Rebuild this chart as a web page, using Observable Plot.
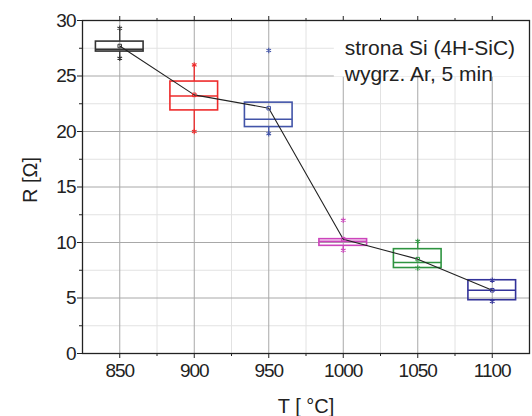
<!DOCTYPE html>
<html><head><meta charset="utf-8">
<script src="https://cdn.jsdelivr.net/npm/d3@7"></script>
<script src="https://cdn.jsdelivr.net/npm/@observablehq/plot@0.6"></script>
<style>
body{margin:0;background:#fff}
svg{font-family:"Liberation Sans",Arial,sans-serif}
g[aria-label$="tick label"] text{letter-spacing:-1px}
</style>
</head><body><div id="chart"></div>
<script>
const temps = [850, 900, 950, 1000, 1050, 1100];
const whiskerLow = [26.5, 19.9, 19.7, 9.3, 7.6, 4.7];
const q1 = [27.2, 21.9, 20.4, 9.7, 7.7, 4.8];
const median = [27.4, 23.2, 21.1, 10.1, 8.2, 5.7];
const q3 = [28.1, 24.5, 22.6, 10.3, 9.4, 6.6];
const whiskerHigh = [29.2, 25.9, 22.6, 10.3, 10.1, 6.6];
const minMark = [26.6, 20.0, 19.8, 9.3, 7.7, 4.7];
const maxMark = [29.3, 26.0, 27.3, 12.0, 10.1, 6.6];
const means = [27.7, 23.3, 22.1, 10.3, 8.5, 5.7];
const colors = ["#333333", "#ee2b2b", "#4254a8", "#cc44bb", "#2e9440", "#33339a"];

const xMajor = [850, 900, 950, 1000, 1050, 1100];
const xMinor = [825, 875, 925, 975, 1025, 1075, 1125];
const yMajor = [0, 5, 10, 15, 20, 25, 30];
const yMinor = [2.5, 7.5, 12.5, 17.5, 22.5, 27.5];
const noteLines = ["strona Si (4H-SiC)", "wygrz. Ar, 5 min"];
const noteBox = [{x1: 994, x2: 1125, y1: 24.9, y2: 30}];
const xLabel = "T [ \u00B0C]";
const yLabel = "R [\u03A9]";

const boxes = temps.map((T, i) => ({
  T, lo: whiskerLow[i], q1: q1[i], med: median[i], q3: q3[i], hi: whiskerHigh[i],
  mn: minMark[i], mx: maxMark[i], mean: means[i], c: colors[i]
}));
const hw = 16;

const chart = Plot.plot({
  width: 532, height: 416,
  marginLeft: 82, marginRight: 3, marginTop: 20, marginBottom: 63,
  style: {fontSize: "19px", fontFamily: "Liberation Sans, Arial, sans-serif", color: "#222"},
  x: {domain: [825, 1125]},
  y: {domain: [0, 30]},
  marks: [
    Plot.ruleX(xMinor, {stroke: "#e2e2e2", strokeWidth: 1}),
    Plot.ruleY(yMinor, {stroke: "#e2e2e2", strokeWidth: 1}),
    Plot.ruleX(xMajor, {stroke: "#a8a8a8", strokeWidth: 1}),
    Plot.ruleY(yMajor, {stroke: "#a8a8a8", strokeWidth: 1}),
    Plot.rect(noteBox, {x1: "x1", x2: "x2", y1: "y1", y2: "y2", fill: "white"}),
    Plot.text([noteLines.join("\n")], {x: 1001, frameAnchor: "top", dy: 17, lineAnchor: "top", textAnchor: "start", lineHeight: 1.2, fontSize: 21, fill: "#222"}),
    Plot.ruleX(boxes, {x: "T", y1: "lo", y2: "q1", stroke: "c", strokeWidth: 1.3}),
    Plot.ruleX(boxes, {x: "T", y1: "q3", y2: "hi", stroke: "c", strokeWidth: 1.3}),
    Plot.rect(boxes, {x1: d => d.T - hw, x2: d => d.T + hw, y1: "q1", y2: "q3", fill: "none", stroke: "c", strokeWidth: 1.6}),
    Plot.ruleY(boxes, {y: "med", x1: d => d.T - hw, x2: d => d.T + hw, stroke: "c", strokeWidth: 1.6}),
    Plot.line(boxes, {x: "T", y: "mean", stroke: "#222", strokeWidth: 1.1}),
    Plot.dot(boxes, {x: "T", y: "mean", symbol: "square", r: 2, stroke: "c", fill: "none", strokeWidth: 1}),
    Plot.dot(boxes, {x: "T", y: "mn", symbol: "asterisk", r: 2.5, stroke: "c", strokeWidth: 1.1}),
    Plot.dot(boxes, {x: "T", y: "mx", symbol: "asterisk", r: 2.5, stroke: "c", strokeWidth: 1.1}),
    Plot.frame({stroke: "#222", strokeWidth: 1.3}),
    Plot.axisX({ticks: xMajor, tickSize: 5, tickPadding: 5, label: null, tickFormat: d => String(d)}),
    Plot.axisX({ticks: xMinor.slice(1, -1), tickSize: 3, label: null, tickFormat: () => ""}),
    Plot.axisX({anchor: "top", ticks: xMajor, tickSize: 5, label: null, tickFormat: () => ""}),
    Plot.axisX({anchor: "top", ticks: xMinor.slice(1, -1), tickSize: 3, label: null, tickFormat: () => ""}),
    Plot.axisY({ticks: yMajor, tickSize: 5, tickPadding: 2, label: null, tickFormat: d => String(d)}),
    Plot.axisY({ticks: yMinor, tickSize: 3, label: null, tickFormat: () => ""}),
    Plot.text([xLabel], {frameAnchor: "bottom", dy: 53, lineAnchor: "middle", fontSize: 20, fill: "#222"}),
    Plot.text([yLabel], {frameAnchor: "left", dx: -52, dy: 16, rotate: -90, lineAnchor: "middle", fontSize: 20, fill: "#222"})
  ]
});
document.getElementById("chart").append(chart);
</script>
</body></html>
